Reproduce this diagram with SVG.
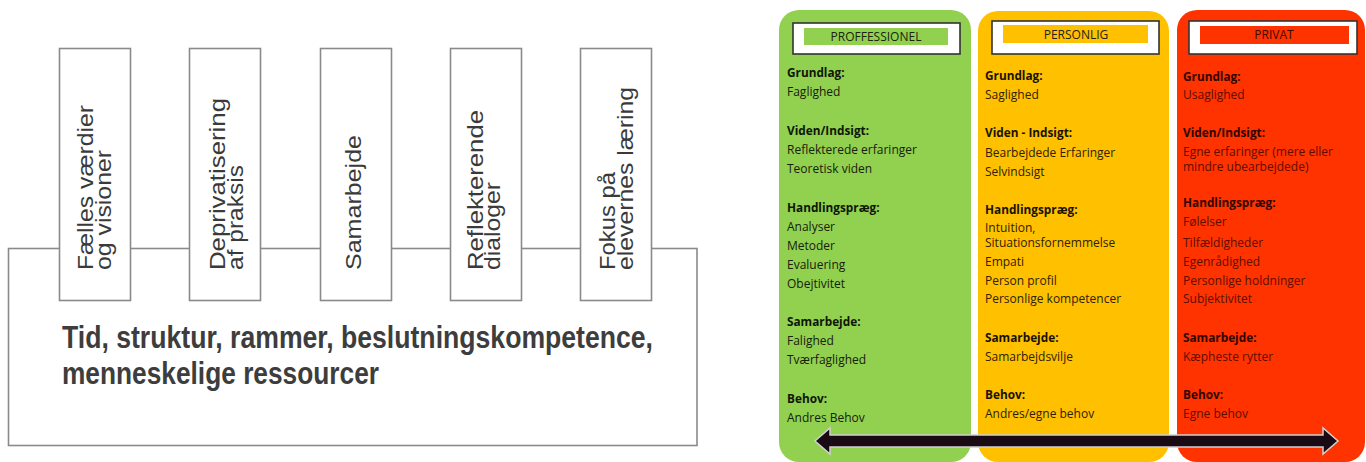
<svg xmlns="http://www.w3.org/2000/svg" width="1366" height="462" viewBox="0 0 1366 462">
<style>
.frame{fill:#ffffff;stroke:#8a8a8a;stroke-width:1.6}
.pt{font-family:"Liberation Sans",Arial,sans-serif;font-size:21.5px;fill:#3a3a3a}
.bt{font-family:"Liberation Sans",Arial,sans-serif;font-size:32px;font-weight:bold;fill:#3d3d3d}
.hdr{fill:#ffffff;stroke:#333333;stroke-width:1.6}
.ht{font-family:"Open Sans","Liberation Sans",sans-serif;font-size:12px;text-anchor:middle}
.b{font-family:"Open Sans","Liberation Sans",sans-serif;font-size:11.8px;font-weight:bold}
.r{font-family:"Open Sans","Liberation Sans",sans-serif;font-size:12px}
.g .b{fill:#0e1606}.g .r{fill:#17200c}
.y .b{fill:#1a1200}.y .r{fill:#2e2000}
.p .b{fill:#300600}.p .r{fill:#5c0e00}
</style>
<rect width="1366" height="462" fill="#ffffff"/>

<g id="base">
<rect class="frame" x="8.5" y="248.5" width="688.5" height="197"/>
<text class="bt" x="62" y="348" textLength="591" lengthAdjust="spacingAndGlyphs">Tid, struktur, rammer, beslutningskompetence,</text>
<text class="bt" x="62" y="384" textLength="317" lengthAdjust="spacingAndGlyphs">menneskelige ressourcer</text>
</g>

<g id="pillar1">
<rect class="frame" x="59.5" y="48.5" width="71" height="252"/>
<text class="pt" transform="translate(92.7,270) rotate(-90)" textLength="165" lengthAdjust="spacingAndGlyphs">Fælles værdier</text>
<text class="pt" transform="translate(110.7,270) rotate(-90)" textLength="120" lengthAdjust="spacingAndGlyphs">og visioner</text>
</g>
<g id="pillar2">
<rect class="frame" x="189.5" y="48.5" width="71" height="252"/>
<text class="pt" transform="translate(225,270) rotate(-90)" textLength="172" lengthAdjust="spacingAndGlyphs">Deprivatisering</text>
<text class="pt" transform="translate(242.7,270) rotate(-90)" textLength="105" lengthAdjust="spacingAndGlyphs">af praksis</text>
</g>
<g id="pillar3">
<rect class="frame" x="320.5" y="48.5" width="71" height="252"/>
<text class="pt" transform="translate(361,270) rotate(-90)" textLength="135" lengthAdjust="spacingAndGlyphs">Samarbejde</text>
</g>
<g id="pillar4">
<rect class="frame" x="450.5" y="48.5" width="71" height="252"/>
<text class="pt" transform="translate(483.3,270) rotate(-90)" textLength="160" lengthAdjust="spacingAndGlyphs">Reflekterende</text>
<text class="pt" transform="translate(500,270) rotate(-90)" textLength="88" lengthAdjust="spacingAndGlyphs">dialoger</text>
</g>
<g id="pillar5">
<rect class="frame" x="580.5" y="48.5" width="71" height="252"/>
<text class="pt" transform="translate(615,270) rotate(-90)" textLength="98" lengthAdjust="spacingAndGlyphs">Fokus på</text>
<text class="pt" transform="translate(632.7,270) rotate(-90)" textLength="183" lengthAdjust="spacingAndGlyphs">elevernes læring</text>
</g>

<g id="professionel" class="g">
<rect x="779" y="10" width="192" height="452" rx="20" fill="#92d050"/>
<rect class="hdr" x="793" y="23" width="167" height="31"/>
<rect x="804" y="28" width="144" height="17" fill="#92d050"/>
<text class="ht" x="876" y="41" fill="#1a2410">PROFFESSIONEL</text>
<text class="b" x="787" y="77">Grundlag:</text>
<text class="r" x="787" y="96">Faglighed</text>
<text class="b" x="787" y="135">Viden/Indsigt:</text>
<text class="r" x="787" y="154">Reflekterede erfaringer</text>
<text class="r" x="787" y="173">Teoretisk viden</text>
<text class="b" x="787" y="212">Handlingspræg:</text>
<text class="r" x="787" y="231">Analyser</text>
<text class="r" x="787" y="250">Metoder</text>
<text class="r" x="787" y="269">Evaluering</text>
<text class="r" x="787" y="288">Obejtivitet</text>
<text class="b" x="787" y="326">Samarbejde:</text>
<text class="r" x="787" y="345">Falighed</text>
<text class="r" x="787" y="364">Tværfaglighed</text>
<text class="b" x="787" y="403">Behov:</text>
<text class="r" x="787" y="422">Andres Behov</text>
</g>

<g id="personlig" class="y">
<rect x="978" y="11" width="191" height="451" rx="20" fill="#ffc000"/>
<rect class="hdr" x="992" y="21" width="167" height="33"/>
<rect x="1003" y="25" width="145" height="18" fill="#ffc000"/>
<text class="ht" x="1076" y="39" fill="#222222">PERSONLIG</text>
<text class="b" x="985" y="80">Grundlag:</text>
<text class="r" x="985" y="99">Saglighed</text>
<text class="b" x="985" y="137">Viden - Indsigt:</text>
<text class="r" x="985" y="157">Bearbejdede Erfaringer</text>
<text class="r" x="985" y="176">Selvindsigt</text>
<text class="b" x="985" y="214">Handlingspræg:</text>
<text class="r" x="985" y="232">Intuition,</text>
<text class="r" x="985" y="247">Situationsfornemmelse</text>
<text class="r" x="985" y="266">Empati</text>
<text class="r" x="985" y="285">Person profil</text>
<text class="r" x="985" y="303">Personlige kompetencer</text>
<text class="b" x="985" y="342">Samarbejde:</text>
<text class="r" x="985" y="361">Samarbejdsvilje</text>
<text class="b" x="985" y="399">Behov:</text>
<text class="r" x="985" y="418">Andres/egne behov</text>
</g>

<g id="privat" class="p">
<rect x="1177" y="10" width="188" height="452" rx="20" fill="#ff3300"/>
<rect class="hdr" x="1189" y="21" width="168" height="33"/>
<rect x="1200" y="26" width="149" height="18" fill="#ff3300"/>
<text class="ht" x="1274" y="39" fill="#3e0a00">PRIVAT</text>
<text class="b" x="1183" y="81">Grundlag:</text>
<text class="r" x="1183" y="99">Usaglighed</text>
<text class="b" x="1183" y="137">Viden/Indsigt:</text>
<text class="r" x="1183" y="156">Egne erfaringer (mere eller</text>
<text class="r" x="1183" y="171">mindre ubearbejdede)</text>
<text class="b" x="1183" y="207">Handlingspræg:</text>
<text class="r" x="1183" y="226">Følelser</text>
<text class="r" x="1183" y="247">Tilfældigheder</text>
<text class="r" x="1183" y="266">Egenrådighed</text>
<text class="r" x="1183" y="285">Personlige holdninger</text>
<text class="r" x="1183" y="303">Subjektivitet</text>
<text class="b" x="1183" y="342">Samarbejde:</text>
<text class="r" x="1183" y="361">Kæpheste rytter</text>
<text class="b" x="1183" y="399">Behov:</text>
<text class="r" x="1183" y="418">Egne behov</text>
</g>

<g id="connectors">
<polygon points="815,441 830,428 830,435 1323,435 1323,428 1338,441 1323,454 1323,447 830,447 830,454" fill="#1a0a14" stroke="#d0d0d0" stroke-width="1.5" stroke-linejoin="miter"/>
</g>
</svg>
